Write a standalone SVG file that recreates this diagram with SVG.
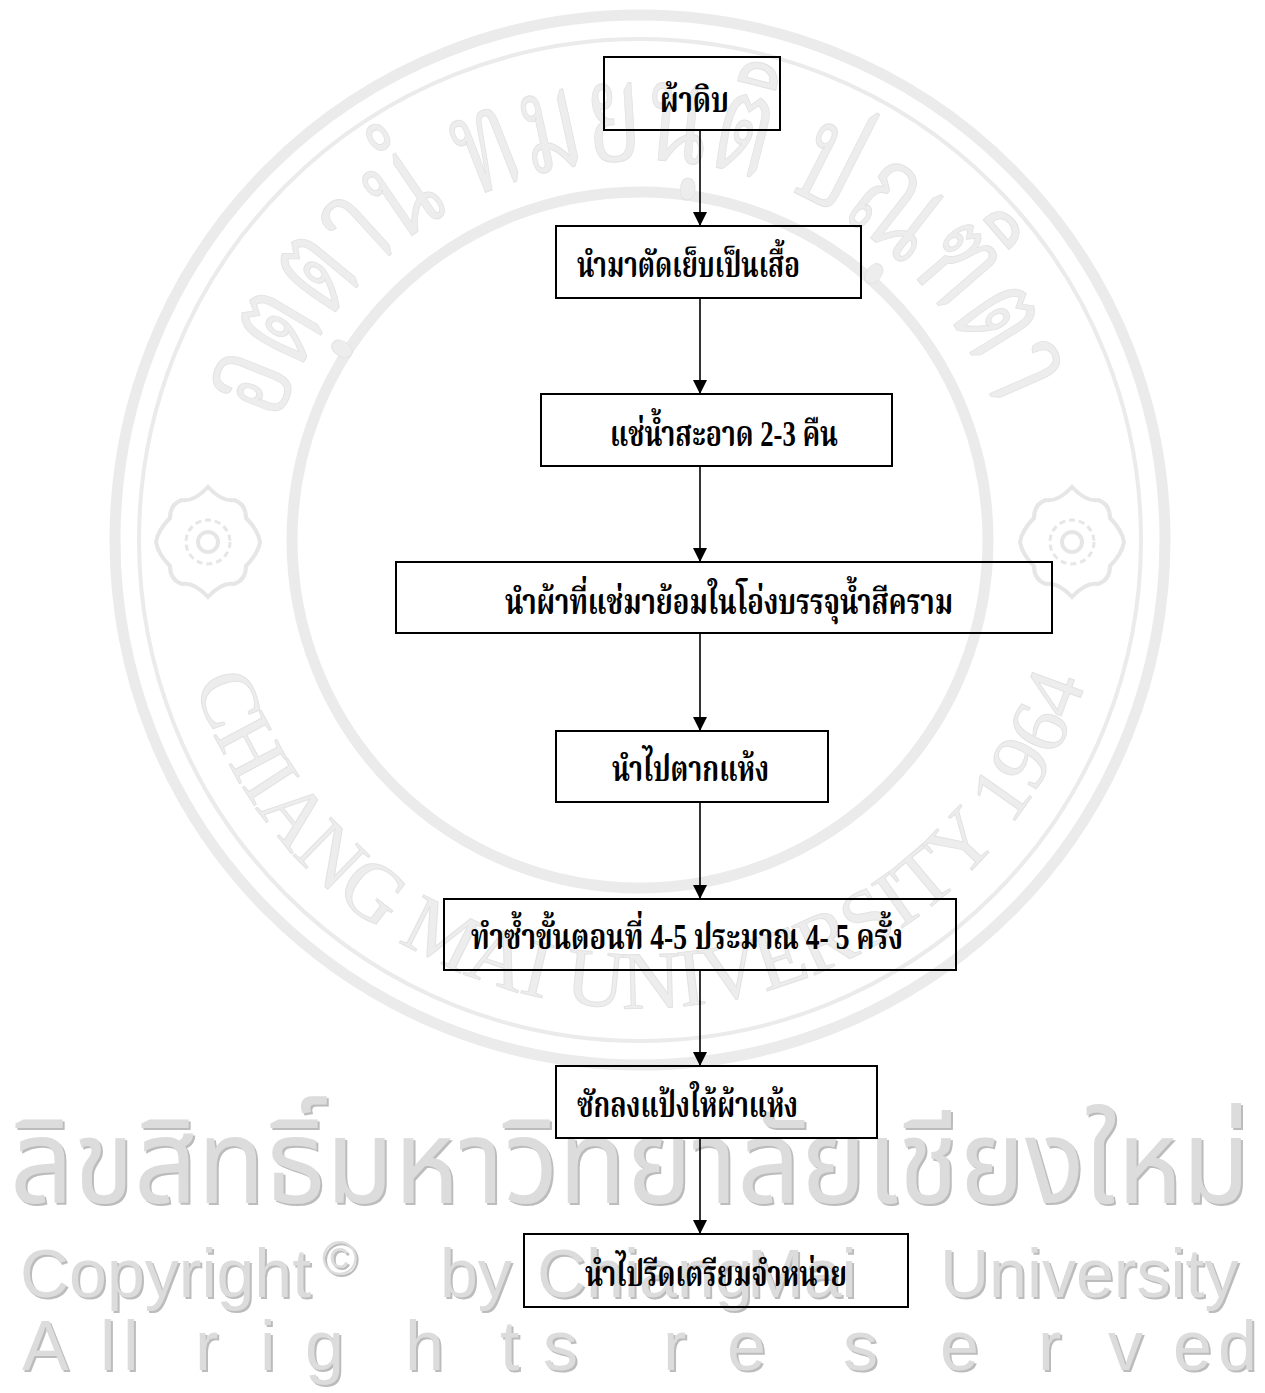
<svg xmlns="http://www.w3.org/2000/svg" width="1265" height="1393" viewBox="0 0 1265 1393">
<style>
.box{fill:none;stroke:#000;stroke-width:2}
.lbl{font-family:"Liberation Serif","Noto Serif Thai","Noto Sans Thai",serif;font-weight:bold;font-size:36px;fill:#000}
.con{stroke:#000;stroke-width:1.6;fill:none}
.wm{fill:#dcdcdc;filter:url(#sh)}
.wmt{font-family:"Liberation Sans","Noto Sans Thai",sans-serif}
.seal{fill:none;stroke:#ebebeb}
.sealtxt{fill:#ededed;stroke:#e2e2e2;stroke-width:1}
</style>
<defs>
<marker id="ah" markerWidth="14" markerHeight="14" refX="14" refY="7" orient="auto" markerUnits="userSpaceOnUse">
<path d="M0,0 L14,7 L0,14 Z" fill="#000"/>
</marker>
<filter id="sh" x="-5%" y="-20%" width="110%" height="140%">
<feDropShadow dx="2" dy="2" stdDeviation="0.6" flood-color="#bcbcbc"/>
</filter>
<path id="botArc" d="M192.4,676.8 A468,468 0 0 0 1087.6,676.8"/>
<path id="topArc" d="M278.6,422.6 A380,380 0 0 1 1001.4,422.6"/>
<g id="flower">
<circle r="10" fill="none" stroke="#e6e6e6" stroke-width="4"/>
<circle r="22" fill="none" stroke="#e6e6e6" stroke-width="3" stroke-dasharray="6 4"/>
<path d="M0,-55 Q14,-40 26,-42 Q38,-38 38,-24 Q50,-12 52,0 Q50,12 38,24 Q38,38 26,42 Q14,40 0,55 Q-14,40 -26,42 Q-38,38 -38,24 Q-50,12 -52,0 Q-50,-12 -38,-24 Q-38,-38 -26,-42 Q-14,-40 0,-55 Z" fill="none" stroke="#e6e6e6" stroke-width="4"/>
</g>
</defs>
<rect width="1265" height="1393" fill="#fff"/>

<g id="watermark">
<circle class="seal" cx="640" cy="540" r="525" stroke-width="11"/>
<circle class="seal" cx="640" cy="540" r="501" stroke-width="4"/>
<circle class="seal" cx="640" cy="540" r="348" stroke-width="11"/>
<use href="#flower" x="208" y="542"/>
<use href="#flower" x="1072" y="542"/>
<text class="sealtxt" font-family="Liberation Serif,serif" font-size="82"><textPath href="#botArc" textLength="1180" lengthAdjust="spacing" startOffset="6">CHIANG MAI UNIVERSITY 1964</textPath></text>
<text class="sealtxt" font-family="Noto Serif Thai,Noto Sans Thai,serif" font-size="140"><textPath href="#topArc" textLength="940" lengthAdjust="spacingAndGlyphs">อตฺตานํ ทมยนฺติ ปณฺฑิตา</textPath></text>
<text class="wm wmt" x="10" y="1203" font-size="118" textLength="1240" lengthAdjust="spacingAndGlyphs">ลิขสิทธิ์มหาวิทยาลัยเชียงใหม่</text>
<text class="wm wmt" y="1297" font-size="68"><tspan x="20">Copyright</tspan><tspan x="322" dy="-22" font-size="48">©</tspan><tspan x="440" dy="22">by</tspan><tspan x="537">Chiang</tspan><tspan x="747">Mai</tspan><tspan x="940">University</tspan></text>
<text class="wm wmt" y="1370" font-size="70" x="22 100 123 140 195 260 305 405 500 543 600 663 727 843 940 1038 1108 1173 1218">All rights reserved</text>
</g>

<g id="connectors">
<line class="con" x1="700" y1="130" x2="700" y2="226" marker-end="url(#ah)"/>
<line class="con" x1="700" y1="298" x2="700" y2="394" marker-end="url(#ah)"/>
<line class="con" x1="700" y1="466" x2="700" y2="562" marker-end="url(#ah)"/>
<line class="con" x1="700" y1="633" x2="700" y2="731" marker-end="url(#ah)"/>
<line class="con" x1="700" y1="802" x2="700" y2="899" marker-end="url(#ah)"/>
<line class="con" x1="700" y1="970" x2="700" y2="1066" marker-end="url(#ah)"/>
<line class="con" x1="700" y1="1138" x2="700" y2="1234" marker-end="url(#ah)"/>
</g>

<g id="n1"><rect class="box" x="604" y="57" width="176" height="73"/><text class="lbl" x="660" y="112" textLength="69" lengthAdjust="spacingAndGlyphs">ผ้าดิบ</text></g>
<g id="n2"><rect class="box" x="556" y="226" width="305" height="72"/><text class="lbl" x="577" y="277" textLength="223" lengthAdjust="spacingAndGlyphs">นำมาตัดเย็บเป็นเสื้อ</text></g>
<g id="n3"><rect class="box" x="541" y="394" width="351" height="72"/><text class="lbl" x="610" y="446" textLength="228" lengthAdjust="spacingAndGlyphs">แช่น้ำสะอาด 2-3 คืน</text></g>
<g id="n4"><rect class="box" x="396" y="562" width="656" height="71"/><text class="lbl" x="505" y="614" textLength="448" lengthAdjust="spacingAndGlyphs">นำผ้าที่แช่มาย้อมในโอ่งบรรจุน้ำสีคราม</text></g>
<g id="n5"><rect class="box" x="556" y="731" width="272" height="71"/><text class="lbl" x="612" y="781" textLength="157" lengthAdjust="spacingAndGlyphs">นำไปตากแห้ง</text></g>
<g id="n6"><rect class="box" x="444" y="899" width="512" height="71"/><text class="lbl" x="471" y="949" textLength="432" lengthAdjust="spacingAndGlyphs">ทำซ้ำขั้นตอนที่ 4-5 ประมาณ 4- 5 ครั้ง</text></g>
<g id="n7"><rect class="box" x="556" y="1066" width="321" height="72"/><text class="lbl" x="577" y="1117" textLength="221" lengthAdjust="spacingAndGlyphs">ซักลงแป้งให้ผ้าแห้ง</text></g>
<g id="n8"><rect class="box" x="524" y="1234" width="384" height="73"/><text class="lbl" x="585" y="1286" textLength="262" lengthAdjust="spacingAndGlyphs">นำไปรีดเตรียมจำหน่าย</text></g>
</svg>
